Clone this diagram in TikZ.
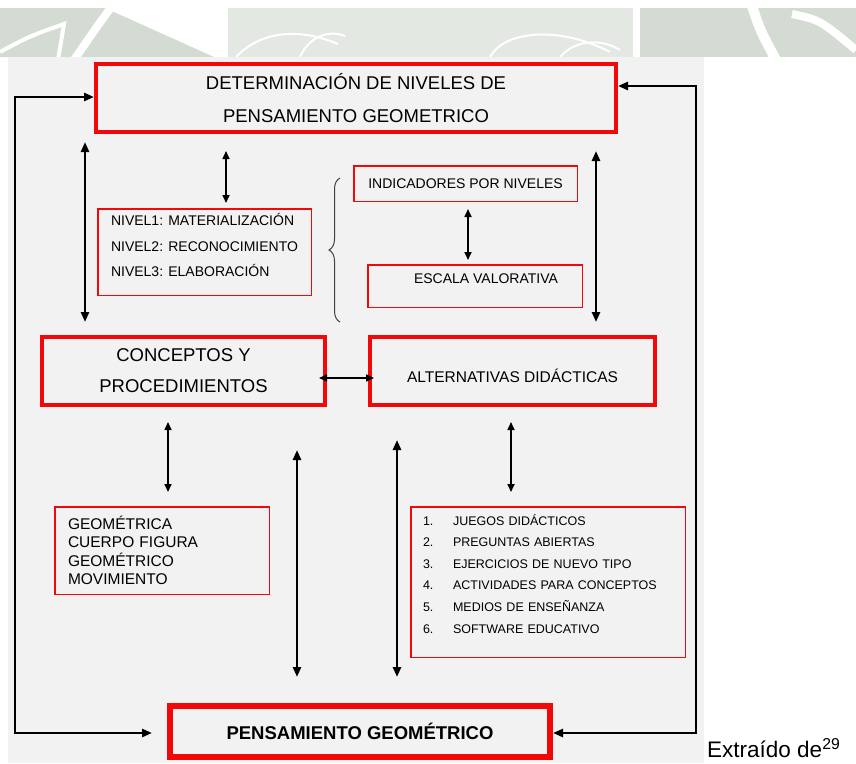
\documentclass[tikz,border=0pt]{standalone}
\usepackage{fontspec}
\setmainfont{Liberation Sans}
\usepackage{xcolor}
\usetikzlibrary{arrows.meta,decorations.pathreplacing}

\definecolor{panel}{RGB}{242,242,242}
\definecolor{rojo}{RGB}{242,8,8}
\definecolor{marca}{RGB}{212,219,210}
\definecolor{marcaclara}{RGB}{228,232,227}
\newcommand{\nro}[1]{\makebox[30pt][l]{#1}}

\begin{document}
\begin{tikzpicture}[x=1pt,y=-1pt,
    marco/.style={draw=rojo,line width=4pt,inner sep=0pt,align=center},
    caja/.style={draw=rojo,line width=1.5pt,inner sep=0pt},
    doble/.style={{Triangle[length=10pt,width=8pt]}-{Triangle[length=10pt,width=8pt]},line width=2.6pt},
    dobleflaca/.style={{Triangle[length=8pt,width=7pt]}-{Triangle[length=8pt,width=7pt]},line width=1.6pt},
    bucle/.style={{Triangle[length=10pt,width=8pt]}-{Triangle[length=10pt,width=8pt]},line width=2.6pt}
  ]
    \useasboundingbox (0,0) rectangle (856,763);
    % fondo con la marca de agua
    \fill[white] (0,0) rectangle (856,763);
    \fill[marca] (0,8) -- (105,8) -- (214,57) -- (0,57) -- cycle;
    \draw[white,line width=8pt] (112,6) .. controls (96,28) .. (74,60);
    \draw[white,line width=4pt] (0,52) .. controls (30,36) .. (64,24) -- (58,60);
    \fill[marcaclara] (228,8) rectangle (633,57);
    \draw[white,line width=2pt] (236,57) .. controls (262,30) and (300,28) .. (338,44);
    \draw[white,line width=2pt] (300,57) .. controls (310,35) and (330,30) .. (345,36);
    \draw[white,line width=2pt] (490,57) .. controls (505,30) and (560,26) .. (610,52);
    \draw[white,line width=2pt] (560,57) .. controls (575,40) and (600,38) .. (620,50);
    \fill[marca] (640,8) rectangle (856,57);
    \draw[white,line width=10pt] (752,6) .. controls (760,30) .. (776,60);
    \draw[white,line width=8pt] (792,14) .. controls (820,20) .. (856,50);
    \fill[panel] (8,57) rectangle (704,763);

    % cajas
    \node[marco,minimum width=520pt,minimum height=68pt,
      font=\fontsize{18.5}{33}\selectfont] (det) at (356,98)
      {DETERMINACIÓN DE NIVELES DE\\PENSAMIENTO GEOMETRICO};
    \node[caja,minimum width=213.5pt,minimum height=86.5pt,align=left,
      font=\fontsize{14}{25.5}\selectfont] (nivel) at (204.5,252)
      {NIVEL1: MATERIALIZACIÓN\\NIVEL2: RECONOCIMIENTO\\NIVEL3: ELABORACIÓN\\[-12pt]\mbox{}};
    \node[caja,minimum width=223.5pt,minimum height=35.5pt,
      font=\fontsize{14}{17}\selectfont] (ind) at (465.5,183.5) {INDICADORES POR NIVELES};
    \node[caja,minimum width=214.5pt,minimum height=42.5pt,text depth=15pt,
      font=\fontsize{14}{17}\selectfont] (esc) at (475,286) {\hspace*{22pt}ESCALA VALORATIVA};
    \node[marco,minimum width=283pt,minimum height=68pt,
      font=\fontsize{18.5}{31}\selectfont] (conc) at (183.5,371) {CONCEPTOS Y\\PROCEDIMIENTOS};
    \node[marco,minimum width=285pt,minimum height=68pt,text height=23pt,
      font=\fontsize{15.5}{18}\selectfont] (alt) at (512.5,371) {ALTERNATIVAS DIDÁCTICAS};
    \node[caja,minimum width=214.5pt,minimum height=87.5pt,text width=188pt,align=left,
      font=\fontsize{15.5}{18.5}\selectfont] (geo) at (162,550.5)
      {GEOMÉTRICA\\CUERPO FIGURA\\GEOMÉTRICO\\MOVIMIENTO};
    \node[caja,minimum width=274.5pt,minimum height=150.5pt,text width=250pt,align=left,
      font=\fontsize{12.5}{21.6}\selectfont] (lista) at (548,582)
      {\nro{1.}JUEGOS DIDÁCTICOS\\\nro{2.}PREGUNTAS ABIERTAS\\\nro{3.}EJERCICIOS DE NUEVO TIPO\\
       \nro{4.}ACTIVIDADES PARA CONCEPTOS\\\nro{5.}MEDIOS DE ENSEÑANZA\\\nro{6.}SOFTWARE EDUCATIVO\\[-5pt]\mbox{}};
    \node[marco,line width=6pt,minimum width=380pt,minimum height=51pt,
      font=\fontsize{18.5}{22}\selectfont\bfseries] (pens) at (360,731.5) {PENSAMIENTO GEOMÉTRICO};
    \node[anchor=base west,inner sep=0pt,font=\fontsize{22.5}{26}\selectfont] (fuente) at (707,757)
      {Extraído de\textsuperscript{29}};

    % lazos exteriores
    \coordinate (lt) at (15,97);
    \coordinate (lb) at (15,733);
    \coordinate (rt) at (696,86);
    \coordinate (rb) at (696,733);
    \draw[bucle,shorten >=15pt] (det.west |- lt) -- (lt) -- (lb) -- (pens.west |- lb);
    \draw[bucle] (det.east |- rt) -- (rt) -- (rb) -- (pens.east |- rb);

    % flechas
    \draw[doble,shorten <=8pt,shorten >=13pt] ([xshift=-271pt]det.south) -- ([xshift=-98.5pt]conc.north);
    \draw[doble,shorten <=17pt,shorten >=13pt] ([xshift=240pt]det.south) -- ([xshift=83.5pt]alt.north);
    \draw[dobleflaca,shorten <=17pt,shorten >=5pt] ([xshift=-130pt]det.south) -- ([xshift=21.5pt]nivel.north);
    \draw[dobleflaca,shorten <=7pt,shorten >=4pt] ([xshift=2.5pt]ind.south) -- ([xshift=-7pt]esc.north);
    \draw[dobleflaca,shorten <=-8pt,shorten >=-6pt] ([yshift=-7pt]conc.east) -- ([yshift=-7pt]alt.west);
    \draw[dobleflaca,shorten <=15pt,shorten >=14pt] ([xshift=-15.5pt]conc.south) -- ([xshift=6pt]geo.north);
    \draw[dobleflaca,shorten <=15pt,shorten >=14pt] ([xshift=-1.5pt]alt.south) -- ([xshift=-37pt]lista.north);
    \coordinate (f1) at (297,450);
    \coordinate (f2) at (397,440);
    \draw[doble,shorten >=26pt] (f1) -- (pens.north -| f1);
    \draw[doble,shorten >=26pt] (f2) -- (pens.north -| f2);

    % llave
    \draw[black!75,line width=1pt,decorate,decoration={brace,amplitude=11pt}] (340,322) -- (340,178);
\end{tikzpicture}
\end{document}
